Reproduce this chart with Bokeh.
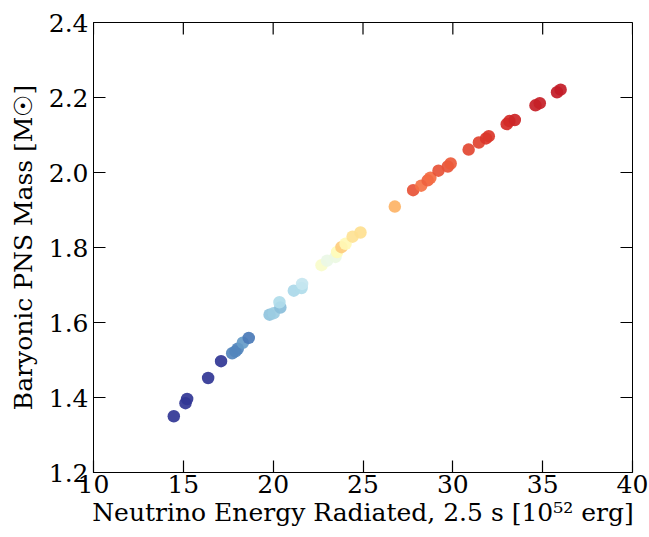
import numpy as np
from bokeh.plotting import figure
from bokeh.models import (ColumnDataSource, LinearColorMapper, Range1d, FixedTicker,
                          PrintfTickFormatter)
from bokeh.embed import file_html
from bokeh.resources import INLINE

# Neutrino energy radiated in 2.5 s [1e52 erg]
energy = [14.47, 15.12, 15.21, 16.38, 17.10, 17.72, 17.90, 18.03, 18.31, 18.64,
          19.80, 20.03, 20.40, 20.35, 21.15, 21.58, 21.61, 22.69, 23.00, 23.47,
          23.56, 23.80, 24.03, 24.42, 24.86, 26.77, 27.79, 28.24, 28.60, 28.75,
          29.20, 29.72, 29.88, 30.88, 31.45, 31.85, 32.00, 33.00, 33.15, 33.45,
          34.60, 34.84, 35.80, 36.00]
# Baryonic PNS mass [Msun]
mass = [1.350, 1.385, 1.396, 1.452, 1.497, 1.518, 1.523, 1.530, 1.546, 1.559,
        1.621, 1.625, 1.640, 1.654, 1.685, 1.692, 1.703, 1.753, 1.765, 1.775,
        1.788, 1.801, 1.810, 1.829, 1.840, 1.909, 1.953, 1.965, 1.979, 1.986,
        2.005, 2.016, 2.024, 2.061, 2.080, 2.091, 2.097, 2.129, 2.137, 2.140,
        2.179, 2.185, 2.214, 2.221]
# colour parameter (normalised 0..1 on the colour scale)
cval = [0.00, 0.00, 0.00, 0.00, 0.00, 0.13, 0.13, 0.13, 0.17, 0.11,
        0.25, 0.27, 0.24, 0.31, 0.30, 0.31, 0.35, 0.48, 0.43, 0.44,
        0.51, 0.64, 0.52, 0.59, 0.60, 0.69, 0.84, 0.79, 0.82, 0.80,
        0.84, 0.84, 0.83, 0.86, 0.87, 0.89, 0.89, 0.91, 0.91, 0.92,
        0.93, 0.93, 0.94, 0.94]

x_ticks = [10, 15, 20, 25, 30, 35, 40]
y_ticks = [1.2, 1.4, 1.6, 1.8, 2.0, 2.2, 2.4]
x_lo, x_hi = 10, 40
y_lo, y_hi = 1.2, 2.4

# RdYlBu reversed palette (blue -> red), interpolated to 256 steps
anchors = ['#313695', '#4575b4', '#74add1', '#abd9e9', '#e0f3f8', '#ffffbf',
           '#fee090', '#fdae61', '#f46d43', '#d73027', '#a50026']
rgb = np.array([[int(h[i:i + 2], 16) for i in (1, 3, 5)] for h in anchors], float)
pos = np.linspace(0, 1, len(anchors))
t = np.linspace(0, 1, 256)
pal = []
for tt in t:
    c = [np.interp(tt, pos, rgb[:, k]) for k in range(3)]
    pal.append('#%02x%02x%02x' % tuple(int(round(v)) for v in c))

mapper = LinearColorMapper(palette=pal, low=0.0, high=1.0)
src = ColumnDataSource(dict(x=energy, y=mass, c=cval))

FONT = "DejaVu Serif"

p = figure(frame_width=539, frame_height=450, width=649, height=537,
           output_backend="svg", toolbar_location=None,
           x_range=Range1d(x_lo, x_hi), y_range=Range1d(y_lo, y_hi),
           min_border_left=93, min_border_right=17, min_border_top=22,
           min_border_bottom=65)
p.background_fill_color = "white"
p.border_fill_color = "white"
p.outline_line_color = "black"
p.outline_line_width = 1
p.grid.visible = False

p.scatter('x', 'y', source=src, size=12.5, fill_color={'field': 'c', 'transform': mapper},
          line_color=None, fill_alpha=0.92)

# mirrored inward ticks on the top and right edges (dash markers clipped by the frame)
p.scatter(x=x_ticks, y=[y_hi] * len(x_ticks), marker="dash", size=24, angle=np.pi / 2,
          line_color="black", line_width=1.2)
p.scatter(x=[x_hi] * len(y_ticks), y=y_ticks, marker="dash", size=24,
          line_color="black", line_width=1.2)

for ax in (p.xaxis[0], p.yaxis[0]):
    ax.major_tick_in = 12
    ax.major_tick_out = 0
    ax.minor_tick_line_color = None
    ax.major_tick_line_color = "black"
    ax.major_tick_line_width = 1.2
    ax.axis_line_color = "black"
    ax.major_label_text_font = FONT
    ax.major_label_text_font_size = "25px"
    ax.major_label_text_color = "black"
    ax.axis_label_text_font = FONT
    ax.axis_label_text_font_size = "25px"
    ax.axis_label_text_font_style = "normal"
    ax.axis_label_text_color = "black"

p.xaxis[0].ticker = FixedTicker(ticks=x_ticks)
p.yaxis[0].ticker = FixedTicker(ticks=y_ticks)
p.yaxis[0].formatter = PrintfTickFormatter(format="%.1f")
p.xaxis[0].axis_label = "Neutrino Energy Radiated, 2.5 s [10\u2075\u00b2 erg]"
p.yaxis[0].axis_label = "Baryonic PNS Mass [M\u2609]"
p.xaxis[0].major_label_standoff = 2
p.yaxis[0].major_label_standoff = 5
p.xaxis[0].axis_label_standoff = 2
p.yaxis[0].axis_label_standoff = 8

open("out.html", "w").write(file_html(p, INLINE))
